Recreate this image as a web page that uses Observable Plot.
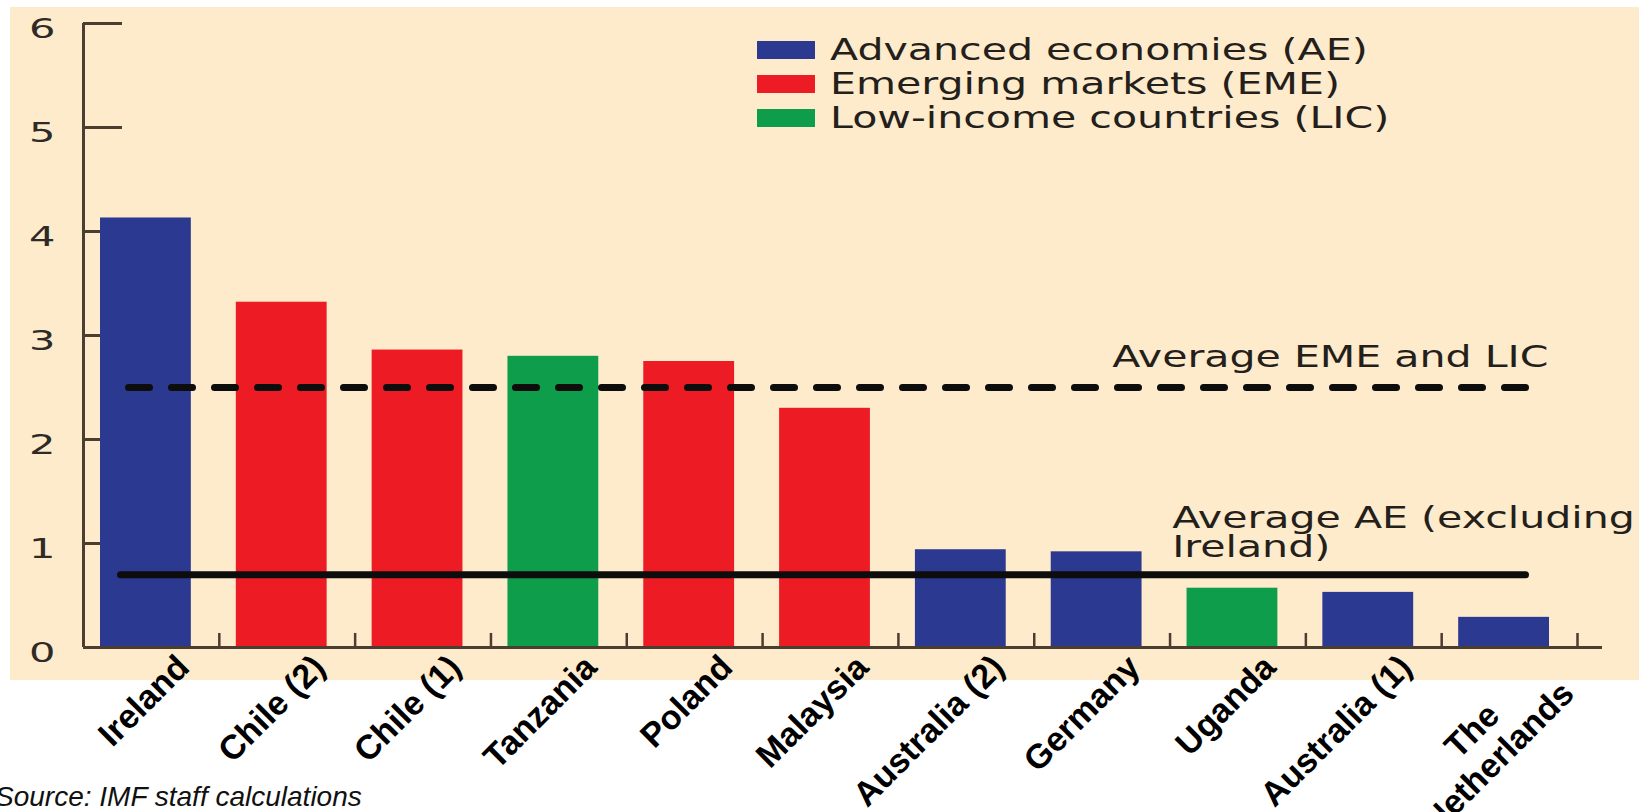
<!DOCTYPE html>
<html>
<head>
<meta charset="utf-8">
<script src="https://cdn.jsdelivr.net/npm/d3@7"></script>
<script src="https://cdn.jsdelivr.net/npm/@observablehq/plot@0.6"></script>
<style>
  html, body { margin: 0; padding: 0; background: #ffffff; }
  #wrap { position: relative; width: 1639px; height: 812px; overflow: hidden; }
  #panel { position: absolute; left: 10px; top: 7px; width: 1629px; height: 673px; background: #fdebcc; }
  #chart { position: absolute; left: 0; top: 0; }
  .row { position: absolute; left: 757px; height: 18px; }
  .sw { position: absolute; left: 0; top: 0; width: 58px; height: 18px; }
  .lt { position: absolute; left: 73px; top: -6px; font: 30px/30px "DejaVu Sans"; white-space: nowrap;
        transform: scaleX(1.37); transform-origin: 0 0; color: #241f1b; }
  #source { position: absolute; left: -5px; top: 783px; font: italic 28px/28px "Liberation Sans", Arial, sans-serif;
            color: #111; white-space: nowrap; }
</style>
</head>
<body>
<div id="wrap">
  <div id="panel"></div>
  <div id="chart"></div>
  <div id="legend"></div>
  <div id="source">Source: IMF staff calculations</div>
</div>
<script>
// ---- data ----
const categories = ["Ireland", "Chile (2)", "Chile (1)", "Tanzania", "Poland", "Malaysia",
                    "Australia (2)", "Germany", "Uganda", "Australia (1)", "The\nNetherlands"];
const values = [4.13, 3.32, 2.86, 2.80, 2.75, 2.30, 0.94, 0.92, 0.57, 0.53, 0.29];
const groupOf = ["AE", "EME", "EME", "LIC", "EME", "EME", "AE", "AE", "LIC", "AE", "AE"];
const groups = ["AE", "EME", "LIC"];
const groupLabels = ["Advanced economies (AE)", "Emerging markets (EME)", "Low-income countries (LIC)"];
const colors = ["#2b3990", "#ed1c24", "#0e9d4a"];
const avgEME = 2.5;
const avgAE = 0.7;
const avgEMELabel = "Average EME and LIC";
const avgAELabel = "Average AE (excluding\nIreland)";
const annotationAnchor = "Germany";
const yTicks = [0, 1, 2, 3, 4, 5, 6];

// ---- layout ----
const W = 1639, H = 812, mL = 83, mR = 62, mT = 23, mB = 165;
const step = (W - mL - mR) / categories.length;
const axisColor = "#4b3d2f";
const stretch = 1.37;      // annotation text
const digitStretch = 1.6;  // y tick labels

const data = categories.map((c, i) => ({category: c, value: values[i], group: groupOf[i]}));

const chart = Plot.plot({
  width: W, height: H,
  marginLeft: mL, marginRight: mR, marginTop: mT, marginBottom: mB,
  style: {background: "transparent", overflow: "visible", fontFamily: "DejaVu Sans"},
  x: {domain: categories, padding: 0, round: false},
  y: {domain: [0, 6]},
  color: {domain: groups, range: colors},
  marks: [
    // inward y ticks (hidden behind bars)
    Plot.ruleY(yTicks, {stroke: axisColor, strokeWidth: 3, insetRight: W - mL - mR - 39}),
    Plot.barY(data, {x: "category", y: "value", fill: "group", insetLeft: 17, insetRight: 28}),
    // x ticks at band boundaries
    Plot.ruleX(categories, {x: d => d, y1: 0, y2: 0.135, dx: step / 2, stroke: axisColor, strokeWidth: 2.5}),
    // averages
    Plot.ruleY([avgEME], {stroke: "#0d0d0d", strokeWidth: 7, strokeLinecap: "round",
                          strokeDasharray: "21,22", insetLeft: 45.5, insetRight: 45.5}),
    Plot.ruleY([avgAE], {stroke: "#0d0d0d", strokeWidth: 7, strokeLinecap: "round",
                         insetLeft: 37.5, insetRight: 51.5}),
    // axis lines
    Plot.ruleY([0], {stroke: axisColor, strokeWidth: 3, insetRight: -25}),
    Plot.ruleX([categories[0]], {x: d => d, y1: 0, y2: 6, dx: -step / 2, stroke: axisColor, strokeWidth: 3}),
    // axes labels
    Plot.axisY({ticks: yTicks, tickFormat: d3.format("d"), tickSize: 0, tickPadding: 28, dy: 6, fontSize: 26,
                fill: "#2e2a26", stroke: "#2e2a26", strokeWidth: 0.7, label: null, fontFamily: "DejaVu Sans"}),
    Plot.axisX({tickSize: 0, tickPadding: 0, tickRotate: -45, textAnchor: "end", lineAnchor: "top",
                dx: 21, dy: 3, fontSize: 34, fontWeight: "bold", fontFamily: "Liberation Sans",
                fill: "#000", lineHeight: 1.1, label: null}),
    // annotations
    Plot.text([avgEME], {x: () => annotationAnchor, y: d => d, text: () => avgEMELabel,
                         textAnchor: "start", lineAnchor: "bottom", dx: 10, dy: -21,
                         fontSize: 30, fill: "#241f1b"}),
    Plot.text([avgAE], {x: () => annotationAnchor, y: d => d, text: () => avgAELabel,
                        textAnchor: "start", lineAnchor: "bottom", lineHeight: 0.95, dx: 70, dy: -18,
                        fontSize: 30, fill: "#241f1b"})
  ]
});
document.getElementById("chart").appendChild(chart);

// horizontal stretch of the original typeface (annotations and y tick labels)
const stretchTexts = new Set([avgEMELabel, avgAELabel].map(s => s.replace("\n", "")));
const yLabelTexts = new Set(yTicks.map(d3.format("d")));
chart.querySelectorAll("text").forEach(el => {
  const c = el.textContent;
  const s = yLabelTexts.has(c) ? digitStretch : stretchTexts.has(c) ? stretch : null;
  if (s) {
    const t = el.getAttribute("transform") || "";
    el.setAttribute("transform", `${t} scale(${s},1)`);
  }
});

// center the short first line of two-line tick labels over the long one
chart.querySelectorAll("text").forEach(el => {
  const spans = el.querySelectorAll("tspan");
  if (spans.length === 2 && categories.includes(spans[0].textContent + "\n" + spans[1].textContent)) {
    const l1 = spans[0].getComputedTextLength(), l2 = spans[1].getComputedTextLength();
    spans[0].setAttribute("x", -(l2 - l1) / 2);
  }
});

// legend
const legend = d3.select("#legend");
groups.forEach((g, i) => {
  const row = legend.append("div").attr("class", "row").style("top", (41 + i * 34) + "px");
  row.append("div").attr("class", "sw").style("background", colors[i]);
  row.append("div").attr("class", "lt").text(groupLabels[i]);
});
</script>
</body>
</html>
